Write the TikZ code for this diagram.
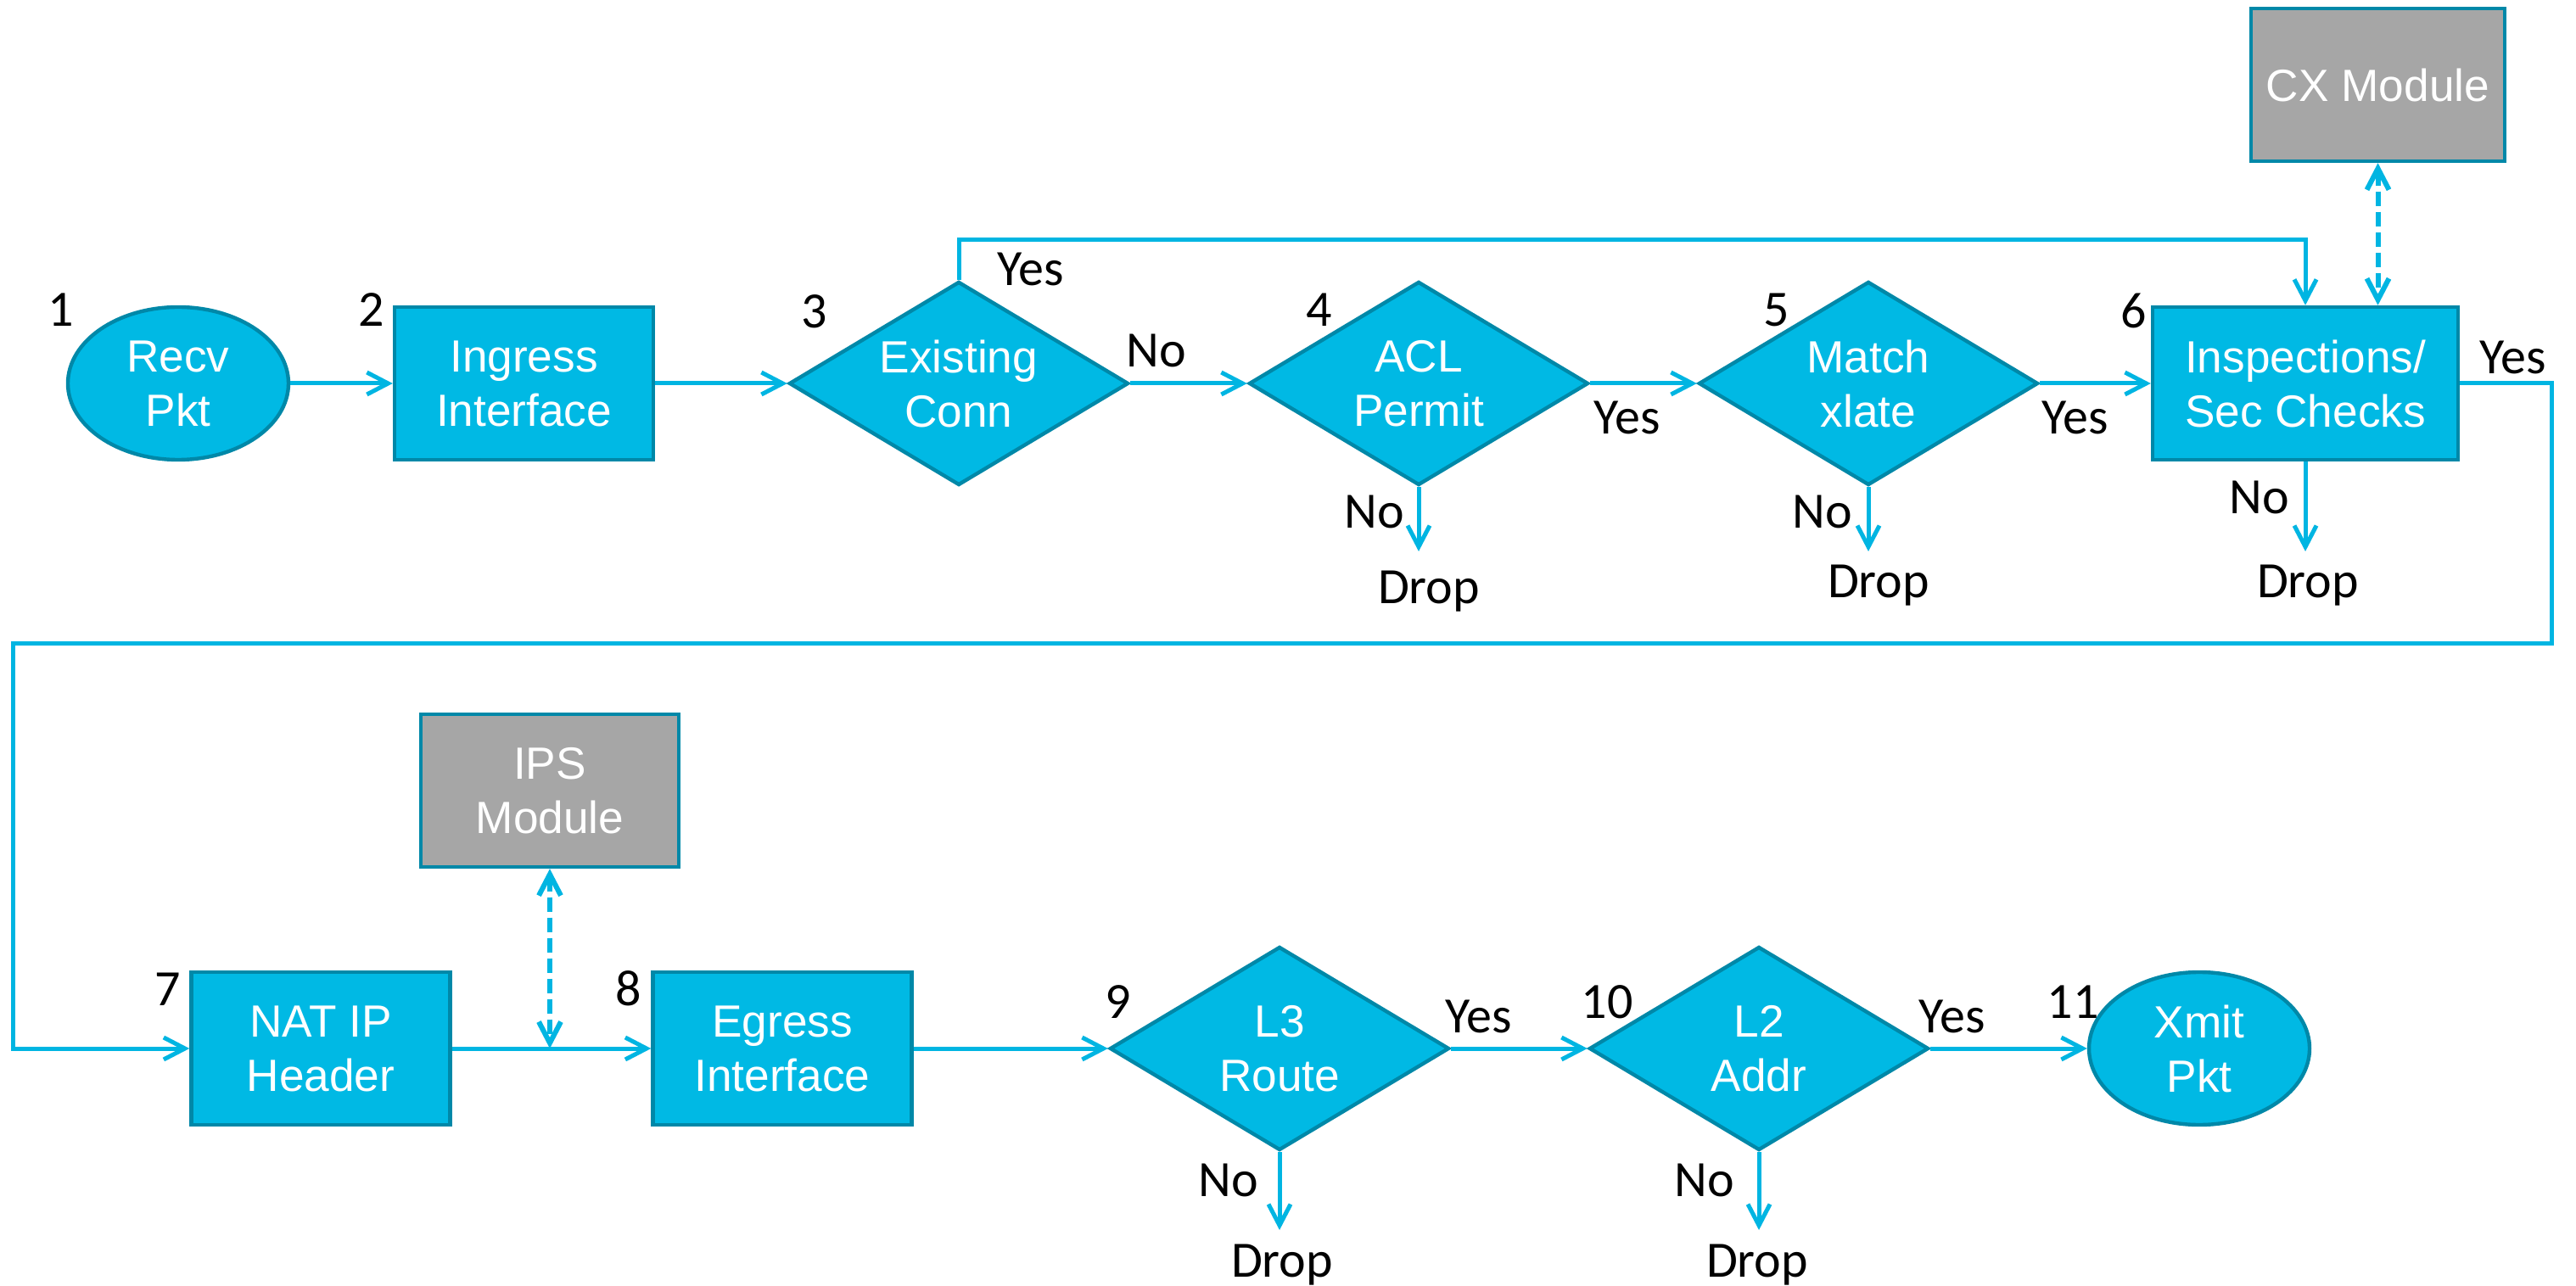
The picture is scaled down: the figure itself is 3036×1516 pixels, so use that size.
\documentclass[tikz,border=0pt]{standalone}
\usepackage{fontspec}
\setmainfont{Liberation Sans}
\newfontfamily\labelfont{Carlito}
\usetikzlibrary{shapes.geometric,arrows.meta}

\definecolor{boxfill}{RGB}{0,185,228}
\definecolor{boxedge}{RGB}{0,136,168}
\definecolor{flowline}{RGB}{0,181,226}
\definecolor{modfill}{RGB}{166,166,166}

\tikzset{
  shapebase/.style={draw=boxedge, line width=1.1pt, fill=boxfill, inner sep=0pt,
    text=white, align=center, font=\fontsize{13.3}{16}\selectfont},
  procbox/.style={shapebase, rectangle, minimum width=#1, minimum height=45pt},
  modbox/.style={procbox=#1, fill=modfill},
  decision/.style={shapebase, diamond, aspect=1.6667, minimum width=100pt, minimum height=60pt},
  terminal/.style={shapebase, ellipse, minimum width=65pt, minimum height=45pt},
  lbl/.style={font=\labelfont\fontsize{15}{18}\selectfont, anchor=base, inner sep=0pt},
  barb/.tip={Straight Barb[length=6.25pt,width=6.5pt]},
  flow/.style={draw=flowline, line width=1.25pt, -barb},
  dflow/.style={draw=flowline, line width=1.5pt, dash pattern=on 4.25pt off 1.75pt, barb-barb},
}

\begin{document}
\begin{tikzpicture}[x=0.25pt,y=-0.25pt]
\useasboundingbox[fill=white] (0,0) rectangle (3036,1516);

% upper row of steps
\node[terminal] (recv) at (210,452) {Recv\\Pkt};
\node[procbox=76.25pt] (ingress) at (617.5,452) {Ingress\\Interface};
\node[decision] (conn) at (1130,452) {Existing\\Conn};
\node[decision] (acl) at (1672,452) {ACL\\Permit};
\node[decision] (xlate) at (2202,452) {Match\\xlate};
\node[procbox=90pt] (insp) at (2717,452) {Inspections/\\Sec Checks};
\node[modbox=74.75pt] (cx) at (2802.5,100) {CX Module};

% lower row of steps
\node[procbox=76.25pt] (nat) at (378,1236) {NAT IP\\Header};
\node[modbox=76pt] (ips) at (648,932) {IPS\\Module};
\node[procbox=76.25pt] (egress) at (922,1236) {Egress\\Interface};
\node[decision] (l3) at (1508,1236) {L3\\Route};
\node[decision] (l2) at (2073,1236) {L2\\Addr};
\node[terminal] (xmit) at (2592,1236) {Xmit\\Pkt};

% turning points and free ends
\coordinate (bypass) at (0,283);
\coordinate (rturn) at (3007,759);
\coordinate (lturn) at (15,759);
\coordinate (ipsjoin) at (ips.south |- nat.east);
\coordinate (acldrop) at (1672,650);
\coordinate (xlatedrop) at (2202,650);
\coordinate (inspdrop) at (2717,650);
\coordinate (l3drop) at (1508,1450);
\coordinate (l2drop) at (2073,1450);

% connectors, upper row
\draw[flow] (recv) -- (ingress);
\draw[flow] (ingress) -- (conn);
\draw[flow] (conn) -- (acl);
\draw[flow] (acl) -- (xlate);
\draw[flow] (xlate) -- (insp);
\draw[flow] (conn.north) -- (conn.north |- bypass) -| (insp.north);
\draw[dflow] (cx.south) -- (cx.south |- insp.north);
\draw[flow] (acl.south) -- (acldrop);
\draw[flow] (xlate.south) -- (xlatedrop);
\draw[flow] (insp.south) -- (inspdrop);

% wrap-around to the lower row
\draw[flow] (insp.east) -| (rturn) -- (lturn) |- (nat.west);

% connectors, lower row
\draw[flow] (nat) -- (egress);
\draw[dflow] (ips.south) -- (ipsjoin);
\draw[flow] (egress) -- (l3);
\draw[flow] (l3) -- (l2);
\draw[flow] (l2) -- (xmit);
\draw[flow] (l3.south) -- (l3drop);
\draw[flow] (l2.south) -- (l2drop);

% step numbers
\node[lbl] (s1) at (72,385) {1};
\node[lbl] (s2) at (438,385) {2};
\node[lbl] (s3) at (960,387) {3};
\node[lbl] (s4) at (1555,385) {4};
\node[lbl] (s5) at (2094,385) {5};
\node[lbl] (s6) at (2515,387) {6};
\node[lbl] (s7) at (198,1185) {7};
\node[lbl] (s8) at (741,1185) {8};
\node[lbl] (s9) at (1318,1200) {9};
\node[lbl] (s10) at (1894,1200) {10};
\node[lbl] (s11) at (2443,1200) {11};

% branch labels
\node[lbl] (connyes) at (1215,337) {Yes};
\node[lbl] (connno) at (1363,433) {No};
\node[lbl] (aclyes) at (1918,512) {Yes};
\node[lbl] (aclno) at (1620,623) {No};
\node[lbl] (acldroplbl) at (1684,712) {Drop};
\node[lbl] (xlateyes) at (2446,512) {Yes};
\node[lbl] (xlateno) at (2148,623) {No};
\node[lbl] (xlatedroplbl) at (2214,705) {Drop};
\node[lbl] (inspyes) at (2962,441) {Yes};
\node[lbl] (inspno) at (2663,606) {No};
\node[lbl] (inspdroplbl) at (2720,705) {Drop};
\node[lbl] (l3yes) at (1743,1217) {Yes};
\node[lbl] (l3no) at (1448,1410) {No};
\node[lbl] (l3droplbl) at (1511,1505) {Drop};
\node[lbl] (l2yes) at (2301,1217) {Yes};
\node[lbl] (l2no) at (2009,1410) {No};
\node[lbl] (l2droplbl) at (2071,1505) {Drop};
\end{tikzpicture}
\end{document}
